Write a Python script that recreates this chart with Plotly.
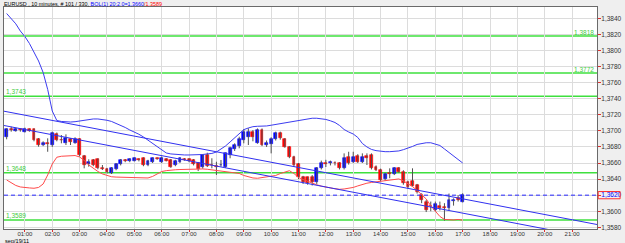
import plotly.graph_objects as go
import pandas as pd

symbol = "EURUSD"
period_label = "10 minutes"
total_bars = 330
first_bar = "2011-09-19 00:20"
date_label = "sep/19/11"

open_ = [1.36920, 1.37020, 1.37002, 1.37020, 1.36990, 1.37023, 1.37020, 1.36895, 1.36824, 1.36845,
         1.36824, 1.36961, 1.36890, 1.36853, 1.36895, 1.36853, 1.36895, 1.36687, 1.36588, 1.36638,
         1.36646, 1.36534, 1.36525, 1.36480, 1.36525, 1.36588, 1.36638, 1.36625, 1.36629, 1.36646,
         1.36659, 1.36575, 1.36616, 1.36659, 1.36616, 1.36646, 1.36638, 1.36575, 1.36616, 1.36646,
         1.36646, 1.36638, 1.36597, 1.36554, 1.36700, 1.36575, 1.36560, 1.36575, 1.36554, 1.36700,
         1.36780, 1.36812, 1.36886, 1.36920, 1.36990, 1.36853, 1.37011, 1.36824, 1.36840, 1.36900,
         1.36970, 1.36895, 1.36803, 1.36680, 1.36586, 1.36422, 1.36420, 1.36420, 1.36368, 1.36540,
         1.36604, 1.36597, 1.36604, 1.36597, 1.36542, 1.36670, 1.36616, 1.36687, 1.36616, 1.36687,
         1.36700, 1.36554, 1.36513, 1.36398, 1.36470, 1.36463, 1.36534, 1.36492, 1.36360, 1.36380,
         1.36327, 1.36205, 1.36120, 1.36065, 1.36016, 1.36065, 1.36050, 1.36037, 1.36130, 1.36170,
         1.36120]

high = [1.37032, 1.37052, 1.37040, 1.37030, 1.37040, 1.37030, 1.37030, 1.36910, 1.36870, 1.36907,
        1.36990, 1.36980, 1.36948, 1.36957, 1.36910, 1.36920, 1.36910, 1.36700, 1.36646, 1.36650,
        1.36659, 1.36575, 1.36540, 1.36550, 1.36600, 1.36650, 1.36650, 1.36660, 1.36670, 1.36660,
        1.36670, 1.36640, 1.36670, 1.36670, 1.36680, 1.36660, 1.36650, 1.36640, 1.36670, 1.36660,
        1.36660, 1.36650, 1.36610, 1.36710, 1.36728, 1.36659, 1.36616, 1.36638, 1.36730, 1.36803,
        1.36845, 1.36927, 1.37020, 1.37032, 1.37010, 1.37030, 1.37030, 1.36880, 1.36920, 1.36990,
        1.36990, 1.36910, 1.36810, 1.36690, 1.36600, 1.36440, 1.36430, 1.36450, 1.36550, 1.36630,
        1.36640, 1.36630, 1.36620, 1.36610, 1.36720, 1.36740, 1.36740, 1.36710, 1.36720, 1.36720,
        1.36720, 1.36570, 1.36530, 1.36480, 1.36534, 1.36550, 1.36550, 1.36510, 1.36380, 1.36534,
        1.36340, 1.36223, 1.36140, 1.36120, 1.36120, 1.36120, 1.36100, 1.36220, 1.36160, 1.36200,
        1.36223]

low = [1.36895, 1.36990, 1.36990, 1.36990, 1.36980, 1.36990, 1.36870, 1.36803, 1.36810, 1.36740,
       1.36800, 1.36870, 1.36845, 1.36824, 1.36824, 1.36840, 1.36680, 1.36534, 1.36554, 1.36560,
       1.36522, 1.36513, 1.36470, 1.36463, 1.36510, 1.36570, 1.36610, 1.36610, 1.36620, 1.36620,
       1.36560, 1.36560, 1.36600, 1.36640, 1.36600, 1.36620, 1.36540, 1.36560, 1.36600, 1.36630,
       1.36610, 1.36570, 1.36500, 1.36530, 1.36550, 1.36534, 1.36451, 1.36554, 1.36540, 1.36659,
       1.36750, 1.36783, 1.36845, 1.36824, 1.36870, 1.36840, 1.36810, 1.36800, 1.36720, 1.36880,
       1.36890, 1.36790, 1.36660, 1.36550, 1.36400, 1.36340, 1.36330, 1.36320, 1.36340, 1.36520,
       1.36550, 1.36570, 1.36570, 1.36520, 1.36520, 1.36580, 1.36600, 1.36600, 1.36600, 1.36575,
       1.36520, 1.36500, 1.36370, 1.36380, 1.36410, 1.36450, 1.36480, 1.36330, 1.36280, 1.36310,
       1.36220, 1.36100, 1.35990, 1.36000, 1.36000, 1.36010, 1.35883, 1.36010, 1.36070, 1.36120,
       1.36110]

close = [1.37020, 1.37010, 1.37020, 1.37010, 1.37027, 1.37002, 1.36886, 1.36824, 1.36853, 1.36840,
         1.36970, 1.36886, 1.36885, 1.36907, 1.36865, 1.36899, 1.36700, 1.36575, 1.36616, 1.36575,
         1.36534, 1.36530, 1.36492, 1.36534, 1.36588, 1.36638, 1.36625, 1.36646, 1.36659, 1.36640,
         1.36575, 1.36625, 1.36659, 1.36646, 1.36659, 1.36629, 1.36554, 1.36625, 1.36659, 1.36640,
         1.36625, 1.36588, 1.36522, 1.36700, 1.36563, 1.36570, 1.36554, 1.36580, 1.36720, 1.36783,
         1.36824, 1.36895, 1.36982, 1.36990, 1.36920, 1.37011, 1.36824, 1.36853, 1.36900, 1.36970,
         1.36907, 1.36803, 1.36680, 1.36575, 1.36420, 1.36368, 1.36355, 1.36370, 1.36534, 1.36604,
         1.36584, 1.36612, 1.36595, 1.36534, 1.36659, 1.36597, 1.36680, 1.36616, 1.36670, 1.36659,
         1.36534, 1.36513, 1.36389, 1.36463, 1.36463, 1.36534, 1.36492, 1.36347, 1.36300, 1.36320,
         1.36244, 1.36140, 1.36016, 1.36060, 1.36090, 1.36037, 1.36040, 1.36140, 1.36145, 1.36140,
         1.36200]

bol_upper = [1.38460, 1.38398, 1.38332, 1.38242, 1.38174, 1.38087, 1.37987, 1.37869, 1.37726, 1.37515,
             1.37247, 1.37129, 1.37117, 1.37110, 1.37110, 1.37114, 1.37123, 1.37135, 1.37144, 1.37148,
             1.37148, 1.37142, 1.37132, 1.37117, 1.37094, 1.37073, 1.37042, 1.37011, 1.36986, 1.36958,
             1.36924, 1.36883, 1.36837, 1.36800, 1.36756, 1.36725, 1.36713, 1.36706, 1.36700, 1.36700,
             1.36700, 1.36700, 1.36700, 1.36706, 1.36713, 1.36719, 1.36737, 1.36775, 1.36812, 1.36862,
             1.36912, 1.36974, 1.37015, 1.37036, 1.37052, 1.37057, 1.37058, 1.37061, 1.37070, 1.37079,
             1.37089, 1.37098, 1.37111, 1.37123, 1.37133, 1.37142, 1.37150, 1.37157, 1.37157, 1.37152,
             1.37142, 1.37125, 1.37104, 1.37067, 1.37017, 1.36986, 1.36961, 1.36918, 1.36843, 1.36800,
             1.36769, 1.36754, 1.36746, 1.36741, 1.36741, 1.36741, 1.36750, 1.36766, 1.36783, 1.36806,
             1.36831, 1.36843, 1.36852, 1.36852, 1.36837, 1.36818, 1.36775, 1.36731, 1.36681, 1.36644,
             1.36600]

bol_lower = [1.36389, 1.36352, 1.36321, 1.36302, 1.36293, 1.36290, 1.36286, 1.36296, 1.36339, 1.36451,
             1.36588, 1.36672, 1.36684, 1.36688, 1.36690, 1.36693, 1.36675, 1.36632, 1.36576, 1.36532,
             1.36495, 1.36464, 1.36445, 1.36429, 1.36425, 1.36423, 1.36422, 1.36422, 1.36420, 1.36420,
             1.36420, 1.36414, 1.36433, 1.36464, 1.36494, 1.36505, 1.36514, 1.36516, 1.36519, 1.36521,
             1.36524, 1.36526, 1.36526, 1.36526, 1.36522, 1.36514, 1.36506, 1.36499, 1.36492, 1.36486,
             1.36481, 1.36470, 1.36445, 1.36426, 1.36414, 1.36410, 1.36417, 1.36423, 1.36429, 1.36445,
             1.36469, 1.36491, 1.36504, 1.36470, 1.36420, 1.36395, 1.36371, 1.36347, 1.36329, 1.36312,
             1.36297, 1.36290, 1.36280, 1.36273, 1.36277, 1.36286, 1.36296, 1.36315, 1.36333, 1.36349,
             1.36358, 1.36364, 1.36374, 1.36382, 1.36389, 1.36395, 1.36402, 1.36377, 1.36342, 1.36307,
             1.36259, 1.36209, 1.36153, 1.36068, 1.35997, 1.35935, 1.35898, 1.35894, 1.35892, 1.35898,
             1.35890]

channel_times = ["2011-09-19 00:00", "2011-09-19 22:00"]
channel_top = [1.37260, 1.35829]
channel_bottom = [1.37082, 1.35651]

levels = [1.3818, 1.3772, 1.3743, 1.3648, 1.3589]
level_sides = ["right", "right", "left", "left", "left"]

y_ticks = [1.3580, 1.3600, 1.3620, 1.3640, 1.3660, 1.3680, 1.3700, 1.3720,
           1.3740, 1.3760, 1.3780, 1.3800, 1.3820, 1.3840]


def fmt(v):
    return f"{v:.4f}".replace(".", ",")


times = pd.date_range(first_bar, periods=len(close), freq="10min")
last = close[-1]

fig = go.Figure()

# wicks
wx, wy = [], []
for t, h, l in zip(times, high, low):
    wx += [t, t, None]
    wy += [l, h, None]
fig.add_trace(go.Scatter(x=wx, y=wy, mode="lines", line=dict(color="#505050", width=1),
                         hoverinfo="skip"))

# bodies
base = [min(o, c) for o, c in zip(open_, close)]
hgt = [abs(c - o) for o, c in zip(open_, close)]
cols = ["#0000ff" if c >= o else "#ff0000" for o, c in zip(open_, close)]
fig.add_trace(go.Bar(x=times, y=hgt, base=base, width=380000,
                     marker=dict(color=cols, line=dict(color=cols, width=0.6))))

# bollinger
fig.add_trace(go.Scatter(x=times, y=bol_upper, mode="lines", line=dict(color="#3c3cf0", width=1)))
fig.add_trace(go.Scatter(x=times, y=bol_lower, mode="lines", line=dict(color="#ff4a4a", width=1)))

# channel
fig.add_trace(go.Scatter(x=channel_times, y=channel_top, mode="lines", line=dict(color="#3030f0", width=1)))
fig.add_trace(go.Scatter(x=channel_times, y=channel_bottom, mode="lines", line=dict(color="#3030f0", width=1)))

shapes = []
annotations = []
lab_font = "Liberation Sans"
narrow_font = "Liberation Sans Narrow, Arial Narrow, Liberation Sans"
for lv, side in zip(levels, level_sides):
    shapes.append(dict(type="line", xref="paper", x0=0, x1=1, yref="y", y0=lv, y1=lv,
                       line=dict(color="#3ee03e", width=1.5), layer="between"))
    if side == "right":
        annotations.append(dict(x=1, xref="paper", xanchor="right", xshift=-1, y=lv, yref="y",
                                yanchor="bottom", yshift=-2, text=fmt(lv), showarrow=False,
                                font=dict(size=6.5, color="#3ecc3e", family=lab_font)))
    else:
        annotations.append(dict(x=0, xref="paper", xanchor="left", xshift=0, y=lv, yref="y",
                                yanchor="bottom", yshift=-1, text=fmt(lv), showarrow=False,
                                font=dict(size=6.5, color="#3ecc3e", family=lab_font)))

# current price dashed line
shapes.append(dict(type="line", xref="paper", x0=0, x1=1, yref="y", y0=last, y1=last,
                   line=dict(color="#2828ff", width=1, dash="4px,3px"), layer="above"))
# red box around the current price label
shapes.append(dict(type="rect", xref="paper", x0=1.002, x1=1.039, yref="y",
                   y0=last - 0.00045, y1=last + 0.00045,
                   line=dict(color="#ff3030", width=1), fillcolor="rgba(0,0,0,0)"))

title_txt = (f"{symbol} , {period_label}, # {len(close)} / {total_bars}, "
             f"<span style='color:#0000ff'>BOL(1) 20;2.0={fmt(bol_upper[-1])}</span>"
             f"<span style='color:#ff0000'>/{fmt(bol_lower[-1])}</span>")
annotations.append(dict(x=0, xref="paper", xanchor="left", xshift=-2, y=1, yref="paper",
                        yanchor="bottom", yshift=-2, text=title_txt, showarrow=False,
                        font=dict(size=5.4, color="#000000", family=narrow_font)))
annotations.append(dict(x=0, xref="paper", xanchor="left", xshift=-1, y=0, yref="paper",
                        yanchor="top", yshift=-7, text=date_label, showarrow=False,
                        font=dict(size=5.6, color="#000000", family=narrow_font)))

tick_text = []
for v in y_ticks:
    if abs(v - last) < 1e-6:
        tick_text.append(f"<span style='color:#0000ff'>{fmt(v)}</span>")
    else:
        tick_text.append(fmt(v))

fig.update_layout(
    width=625, height=243,
    margin=dict(l=3, r=26, t=7, b=14, pad=0),
    paper_bgcolor="#efefef", plot_bgcolor="#ffffff",
    separators=",.",
    showlegend=False,
    shapes=shapes, annotations=annotations,
    bargap=0,
    xaxis=dict(type="date", range=["2011-09-19 00:14:11", "2011-09-19 21:54:33"],
               tickformat="%H:%M", dtick=3600000, tick0="2011-09-19 01:00",
               showgrid=True, gridcolor="#dcdcdc", gridwidth=1,
               ticks="outside", ticklen=2, tickcolor="#e03030",
               ticklabelstandoff=-3,
               tickfont=dict(size=6, color="#333333", family=lab_font),
               showline=True, linecolor="#6a6a6a", linewidth=1, mirror=True,
               zeroline=False, fixedrange=True),
    yaxis=dict(side="right", range=[1.35779, 1.38541],
               tickvals=y_ticks, ticktext=tick_text,
               showgrid=True, gridcolor="#dcdcdc", gridwidth=1,
               ticks="outside", ticklen=3, tickcolor="#e03030",
               ticklabelstandoff=-1,
               tickfont=dict(size=6.5, color="#333333", family=lab_font),
               showline=True, linecolor="#6a6a6a", linewidth=1, mirror=True,
               zeroline=False, fixedrange=True),
)

fig.write_html("out.html")
